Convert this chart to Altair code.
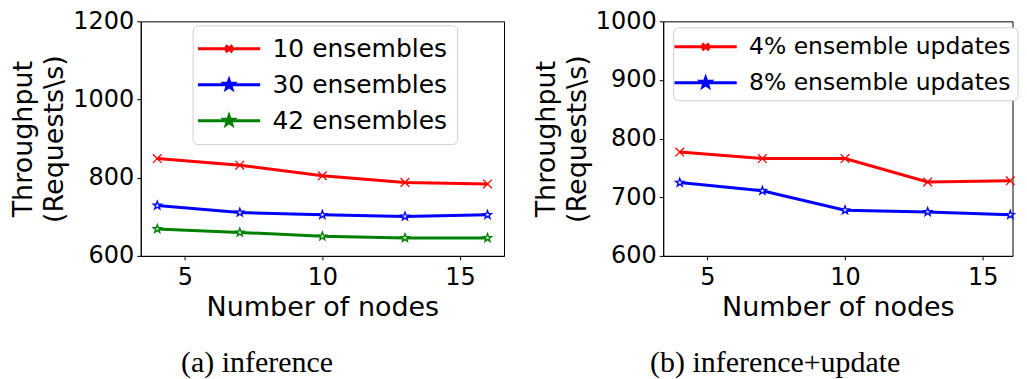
import altair as alt
import pandas as pd

# ---------------- data ----------------
nodes = [4, 7, 10, 13, 16]

inf_series = ["10 ensembles", "30 ensembles", "42 ensembles"]
inf_10 = [849, 832, 805, 788, 784]
inf_30 = [729, 711, 705, 701, 705]
inf_42 = [669, 660, 650, 646, 646]

upd_series = ["4% ensemble updates", "8% ensemble updates"]
upd_4 = [777, 766, 766, 726, 728]
upd_8 = [725, 711, 678, 675, 670]

inf_colors = ["#ff0000", "#0000ff", "#008000"]
inf_fills = ["#ff0000", "#c8d0ff", "#b8e0b8"]
upd_colors = ["#ff0000", "#0000ff"]
upd_fills = ["#ff0000", "#c8d0ff"]


def long_df(series_names, values_list):
    rows = []
    for name, vals in zip(series_names, values_list):
        for n, v in zip(nodes, vals):
            rows.append({"nodes": n, "value": v, "series": name})
    return pd.DataFrame(rows)


df_inf = long_df(inf_series, [inf_10, inf_30, inf_42])
df_upd = long_df(upd_series, [upd_4, upd_8])

# marker shapes (unit space)
X_MARK = "M-1,-1L1,1M-1,1L1,-1"
STAR = ("M0,-1L0.238,-0.327L0.951,-0.309L0.385,0.125L0.588,0.809"
        "L0,0.405L-0.588,0.809L-0.385,0.125L-0.951,-0.309L-0.238,-0.327Z")
# legend symbols: line segment + marker
LEG_X = "M-2.6,0H2.6M-0.28,-0.28L0.28,0.28M-0.28,0.28L0.28,-0.28"
LEG_STAR = ("M-2.6,0H2.6M0,-0.4L0.095,-0.13L0.38,-0.124L0.154,0.05L0.235,0.324"
            "L0,0.162L-0.235,0.324L-0.154,0.05L-0.38,-0.124L-0.095,-0.13Z")

FONT = "DejaVu Sans"


def panel(df, series, colors, fills, shapes, leg_shapes, ydomain, yticks,
          xdomain, width, caption, lx, ly, leg_font, leg_pad, leg_row):
    x = alt.X("nodes:Q",
              scale=alt.Scale(domain=xdomain, nice=False, zero=False),
              axis=alt.Axis(values=[5, 10, 15], title="Number of nodes", format="d",
                            labelPadding=6, titlePadding=5))
    y = alt.Y("value:Q",
              scale=alt.Scale(domain=ydomain, nice=False, zero=False),
              axis=alt.Axis(values=yticks, format="d",
                            title=["Throughput", "(Requests\\s)"]))
    stroke = alt.Stroke("series:N", scale=alt.Scale(domain=series, range=colors), legend=None)
    lines = alt.Chart(df).mark_line(strokeWidth=3).encode(x=x, y=y, stroke=stroke)
    points = alt.Chart(df).mark_point(filled=True, opacity=1, strokeWidth=1.3, size=75).encode(
        x=x, y=y, stroke=stroke,
        fill=alt.Fill("series:N", scale=alt.Scale(domain=series, range=fills), legend=None),
        shape=alt.Shape("series:N", scale=alt.Scale(domain=series, range=shapes), legend=None),
    )
    leg = alt.Legend(title=None, orient="none", legendX=lx, legendY=ly,
                     labelFont=FONT, labelFontSize=leg_font, labelColor="black", labelLimit=0,
                     symbolSize=576, symbolStrokeWidth=3, symbolOffset=13,
                     labelOffset=30, padding=leg_pad, rowPadding=leg_row,
                     strokeColor="#d0d0d0", fillColor="white", cornerRadius=5)
    legend_layer = alt.Chart(df).transform_filter("false").mark_point(
        filled=True, opacity=1).encode(
        stroke=alt.Stroke("series:N", scale=alt.Scale(domain=series, range=colors), legend=leg),
        fill=alt.Fill("series:N", scale=alt.Scale(domain=series, range=fills), legend=leg),
        shape=alt.Shape("series:N", scale=alt.Scale(domain=series, range=leg_shapes), legend=leg),
    )
    return alt.layer(lines, points, legend_layer).resolve_scale(
        shape="independent", fill="independent", stroke="independent"
    ).properties(
        width=width, height=235,
        title=alt.TitleParams(caption, orient="bottom", anchor="middle", frame="bounds",
                              font="Liberation Serif", fontSize=30,
                              fontWeight="normal", color="black", offset=27),
    )


left = panel(df_inf, inf_series, inf_colors, inf_fills,
             [X_MARK, STAR, STAR], [LEG_X, LEG_STAR, LEG_STAR],
             [600, 1200], [600, 800, 1000, 1200], [3.4, 16.6], 364,
             "(a) inference", 52, 4, 25, 10, 9)
right = panel(df_upd, upd_series, upd_colors, upd_fills,
              [X_MARK, STAR], [LEG_X, LEG_STAR],
              [600, 1000], [600, 700, 800, 900, 1000], [3.4, 16.08], 350,
              "(b) inference+update", 10, 6, 23.5, 6, 11)

chart = alt.hconcat(left, right, spacing=26.5).properties(
    padding={"left": 1, "top": 0, "right": 0, "bottom": 0}
).configure_axis(
    labelFont=FONT, labelFontSize=24, labelColor="black",
    titleFont=FONT, titleFontSize=27, titleFontWeight="normal", titleColor="black",
    tickColor="black", domainColor="black", tickSize=4, labelPadding=3,
    grid=False, titleLineHeight=31,
).configure_view(stroke="black", strokeWidth=1)

chart.save("out.html", embed_options={"renderer": "svg", "actions": False})
